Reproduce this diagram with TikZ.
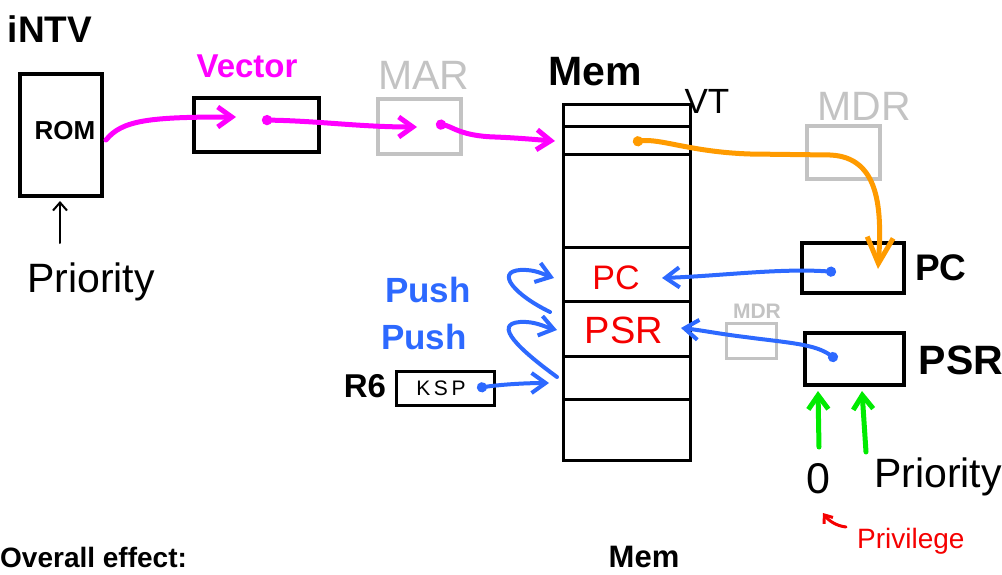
\documentclass[tikz,border=0pt]{standalone}
\usepackage{fontspec}
\setmainfont{Liberation Sans}
\usetikzlibrary{arrows.meta}
\definecolor{mag}{RGB}{255,0,255}
\definecolor{gry}{RGB}{195,195,195}
\definecolor{blu}{RGB}{45,105,255}
\definecolor{org}{RGB}{255,155,0}
\definecolor{grn}{RGB}{0,235,0}
\definecolor{rd}{RGB}{245,0,0}
\tikzset{
  reg/.style={draw=black, line width=4pt, inner sep=0pt, outer sep=0pt},
  greg/.style={draw=gry, line width=4pt, inner sep=0pt, outer sep=0pt},
  lbl/.style={inner sep=0pt, font=\fontsize{#1}{#1}\selectfont},
  blbl/.style={inner sep=0pt, font=\fontsize{#1}{#1}\selectfont\bfseries},
  wire/.style={line width=5pt, line cap=round, line join=round},
  bigtip/.style={-{Straight Barb[length=14pt,width=20pt]}},
  dottip/.style={{Circle[length=10pt]}-{Straight Barb[length=14pt,width=20pt]}},
  rowline/.style={line width=3pt},
}
\begin{document}
\begin{tikzpicture}[x=1pt,y=-1pt]
\useasboundingbox (0,0) rectangle (1002,575);

% ---- registers / boxes
\node[reg, minimum width=82pt, minimum height=122pt] (rom) at (61,135) {};
\node[reg, minimum width=125pt, minimum height=54pt] (vec) at (256.5,125) {};
\node[greg, minimum width=83pt, minimum height=55pt] (mar) at (419.5,126.5) {};
\node[reg, line width=3pt, minimum width=127pt, minimum height=356pt] (mem) at (627,282.5) {};
\node[greg, minimum width=73pt, minimum height=53pt] (mdr) at (843.5,152.5) {};
\node[reg, minimum width=102pt, minimum height=50pt] (pc) at (853,268) {};
\node[reg, minimum width=99pt, minimum height=52pt] (psr) at (854.5,359) {};
\node[greg, line width=3pt, minimum width=50pt, minimum height=35pt] (mdrs) at (751.5,341) {};
\node[reg, line width=3pt, minimum width=98pt, minimum height=34pt] (ksp) at (445.5,388.5) {};

% memory rows
\foreach \yy in {127,155,247,301,356,399}
  \draw[rowline] (mem.west |- 0,\yy) -- (mem.east |- 0,\yy);

% ---- labels
\node[blbl=37] (intv) at (50,29) {iNTV};
\node[blbl=26] (romt) at (65,131) {ROM};
\node[blbl=33, text=mag] (vect) at (247,66) {Vector};
\node[lbl=41, text=gry] (mart) at (424,75) {MAR};
\node[blbl=41] (memt) at (595,72) {Mem};
\node[lbl=35] (vtt) at (707,101) {VT};
\node[lbl=41, text=gry] (mdrt) at (864,106) {MDR};
\node[blbl=37] (pct) at (941,268) {PC};
\node[blbl=41] (psrt) at (961,360) {PSR};
\node[lbl=34, text=rd] (pcslot) at (616,278) {PC};
\node[lbl=38, text=rd] (psrslot) at (624,330) {PSR};
\node[blbl=21, text=gry] (mdrst) at (757,311) {MDR};
\node[blbl=35, text=blu] (push1) at (428,290) {Push};
\node[blbl=35, text=blu] (push2) at (424,337) {Push};
\node[blbl=33] (r6) at (365,386) {R6};
\node[lbl=21] (kspt) at (441,388) {K\,S\,P};
\node[lbl=41, anchor=base west] (prio1) at (27,292) {Priority};
\node[lbl=43] (zero) at (818,479) {0};
\node[lbl=41, anchor=base west] (prio2) at (874,487) {Priority};
\node[lbl=28, text=rd, anchor=base west] (priv) at (857,548) {Privilege};
\node[blbl=28, anchor=base west] (overall) at (0,567) {Overall effect:};
\node[blbl=31, anchor=base] (memb) at (644,567) {Mem};

% ---- connector end points
\coordinate (romOut) at (106,140);
\coordinate (vecIn) at (236,117);
\coordinate (vecOut) at (262,120);
\coordinate (marIn) at (417,127);
\coordinate (marOut) at (436,124);
\coordinate (memIn) at (555,141);
\coordinate (vtOut) at (633,142);
\coordinate (pcIn) at (878,269);
\coordinate (pcOut) at (836,272);
\coordinate (pcSlotIn) at (662,278);
\coordinate (psrOut) at (837,360);
\coordinate (psrSlotIn) at (681,328);
\coordinate (push1a) at (550,312);
\coordinate (push1b) at (554,278);
\coordinate (push2a) at (557,377);
\coordinate (push2b) at (557,330);
\coordinate (kspOut) at (477,388);
\coordinate (kspIn) at (549,383);

% ---- magenta path
\draw[wire, mag, bigtip] (romOut) .. controls (122,120) and (150,117) .. (vecIn);
\draw[wire, mag, dottip] (vecOut) .. controls (320,121) and (360,127) .. (marIn);
\draw[wire, mag, dottip] (marOut) .. controls (452,126) and (460,136) .. (495,137)
   .. controls (520,138) and (540,140) .. (memIn);

% ---- orange path
\draw[wire, org, {Circle[length=10pt]}-{Straight Barb[length=26pt,width=26pt]}]
   (vtOut) .. controls (660,138) and (690,152) .. (750,154)
   -- (830,155) .. controls (880,157) and (882,210) .. (pcIn);

% ---- blue paths
\draw[wire, line width=4pt, blu, dottip] (pcOut) .. controls (780,268) and (720,276) .. (pcSlotIn);
\draw[wire, line width=4pt, blu, dottip] (psrOut) .. controls (815,344) and (790,343) .. (745,337)
   .. controls (720,334) and (700,330) .. (psrSlotIn);
\draw[wire, line width=4pt, blu, bigtip] (push1a) .. controls (515,295) and (495,272) .. (520,270)
   .. controls (535,269) and (545,275) .. (push1b);
\draw[wire, line width=4pt, blu, bigtip] (push2a) .. controls (520,350) and (492,324) .. (520,322)
   .. controls (535,321) and (545,327) .. (push2b);
\draw[wire, line width=4pt, blu, dottip] (kspOut) .. controls (505,384) and (530,383) .. (kspIn);

% ---- black priority arrow
\coordinate (prioBot) at (60,243);
\coordinate (prioTop) at (60,201);
\draw[line width=2pt, line cap=round, -{Straight Barb[length=8pt,width=14pt]}] (prioBot) -- (prioTop);

% ---- green arrows
\coordinate (g1a) at (819,447);
\coordinate (g1b) at (818,391);
\coordinate (g2a) at (866,452);
\coordinate (g2b) at (862,391);
\draw[wire, grn, bigtip] (g1a) -- (g1b);
\draw[wire, grn, bigtip] (g2a) -- (g2b);

% ---- privilege arrow
\coordinate (pvA) at (846,527);
\coordinate (pvB) at (823,513);
\draw[line width=3pt, line cap=round, rd, -{Straight Barb[length=7pt,width=11pt]}] (pvA) .. controls (836,526) and (828,520) .. (pvB);
\end{tikzpicture}
\end{document}
